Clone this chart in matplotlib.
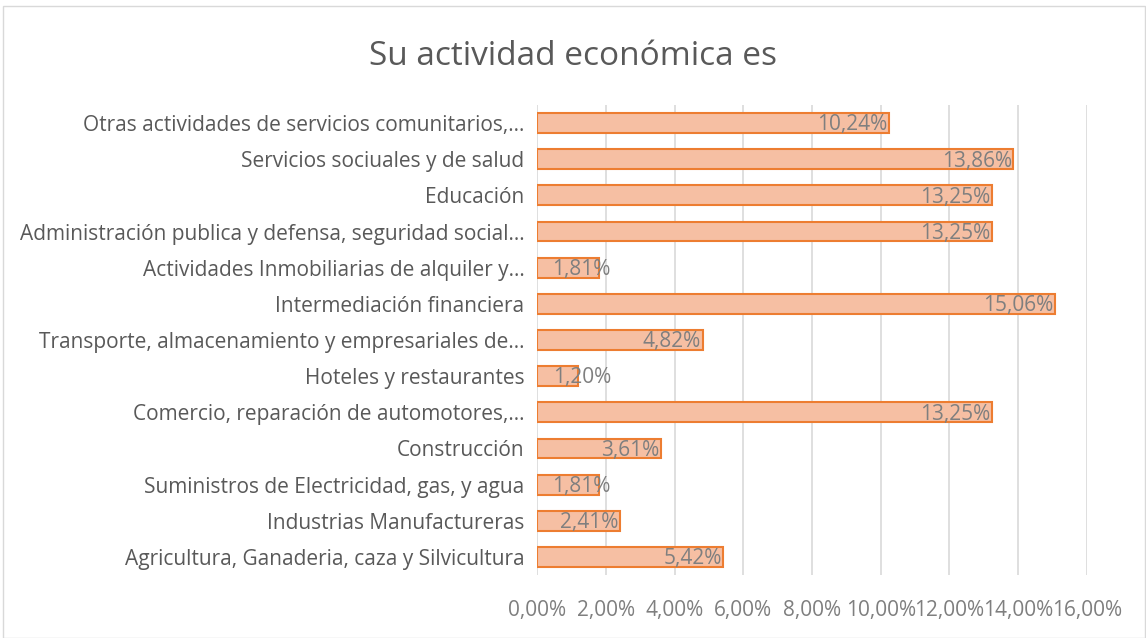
import matplotlib.pyplot as plt
from matplotlib.ticker import FuncFormatter

# categories from bottom to top
categorias = [
    "Agricultura, Ganaderia, caza y Silvicultura",
    "Industrias Manufactureras",
    "Suministros de Electricidad, gas, y agua",
    "Construcción",
    "Comercio, reparación de automotores,…",
    "Hoteles y restaurantes",
    "Transporte, almacenamiento y empresariales de…",
    "Intermediación financiera",
    "Actividades Inmobiliarias de alquiler y…",
    "Administración publica y defensa, seguridad social…",
    "Educación",
    "Servicios sociuales y de salud",
    "Otras actividades de servicios comunitarios,…",
]
porcentajes = [5.42, 2.41, 1.81, 3.61, 13.25, 1.20, 4.82, 15.06, 1.81, 13.25, 13.25, 13.86, 10.24]
ticks_x = [0, 2, 4, 6, 8, 10, 12, 14, 16]

gris = "#7f7f7f"
plt.rcParams['font.family'] = ['Open Sans', 'DejaVu Sans']

fig = plt.figure(figsize=(11.46, 6.38), dpi=100)
ax = fig.add_axes([0.4686, 0.0987, 0.4799, 0.7367])

y = range(len(categorias))
ax.barh(y, porcentajes, height=0.55, color="#F6BFA3", edgecolor="#ED7D31", linewidth=1.5, zorder=3)

for yi, v in zip(y, porcentajes):
    xpos = max(v, 2.2)
    ax.text(xpos - 0.05, yi - 0.05, f"{v:.2f}%".replace(".", ","), ha="right", va="center",
            fontsize=15, color=gris, zorder=4)

ax.set_xlim(0, 16)
ax.set_ylim(-0.5, len(categorias) - 0.5)
ax.set_xticks(ticks_x)
ax.xaxis.set_major_formatter(FuncFormatter(lambda v, p: f"{v:.2f}%".replace(".", ",")))
ax.set_yticks(list(y))
ax.set_yticklabels(categorias)
ax.tick_params(axis="y", length=0, pad=9, labelsize=15, labelcolor="#595959")
ax.tick_params(axis="x", length=0, pad=18, labelsize=15, labelcolor=gris)
ax.grid(axis="x", color="#d9d9d9", linewidth=1.2, zorder=0)
for s in ax.spines.values():
    s.set_visible(False)

fig.text(0.5, 0.912, "Su actividad económica es", ha="center", va="center", fontsize=24, color="#595959")

# chart frame
fig.patches.append(plt.Rectangle((0.003, 0.0), 0.996, 0.99, transform=fig.transFigure,
                                 fill=False, edgecolor="#d9d9d9", linewidth=1))

fig.savefig("out.png", dpi=100)
